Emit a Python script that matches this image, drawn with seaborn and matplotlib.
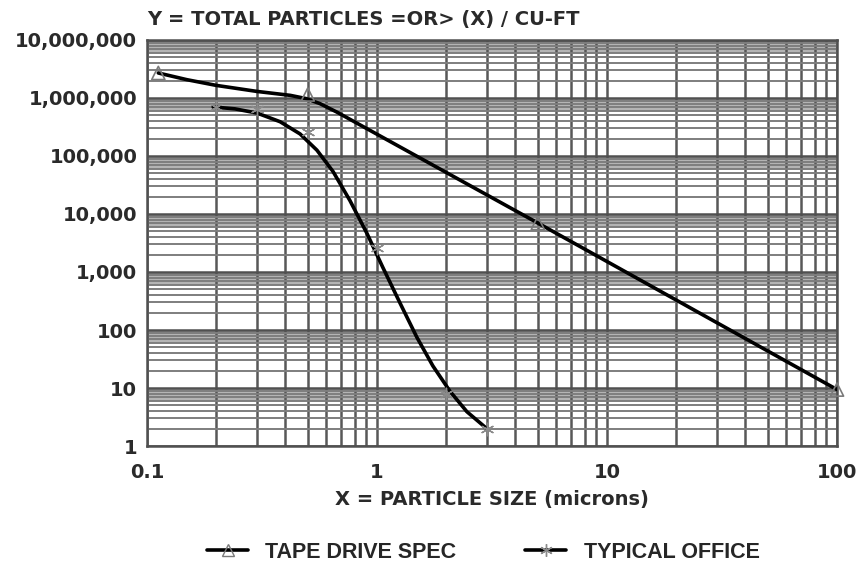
#
# Particle size distribution chart (log-log), redrawn with seaborn
#

import numpy as np
import pandas as pd
from matplotlib import pyplot as plt
from matplotlib.lines import Line2D
from matplotlib.ticker import FixedLocator, NullFormatter
import seaborn as sns

#
# Data
#

# tape drive spec - curve and its marker points
tape_x = [0.112, 0.149, 0.2, 0.3, 0.42, 0.49, 0.565, 0.67, 5, 100]
tape_y = [2.7e6, 2.07e6, 1.65e6, 1.3e6, 1.11e6, 9.8e5, 8.0e5, 5.7e5, 7000, 9.4]
tape_mark_x = [0.112, 0.5, 5, 100]
tape_mark_y = [2.7e6, 1.15e6, 7000, 9.4]

# typical office - curve and its marker points
office_x = [0.194, 0.241, 0.301, 0.379, 0.463, 0.548, 0.644, 0.763, 0.905, 1.06,
            1.26, 1.49, 1.75, 2.08, 2.46, 3.0]
office_y = [7.0e5, 6.5e5, 5.5e5, 3.9e5, 2.4e5, 1.26e5, 5.4e4, 1.7e4, 4.6e3, 1.2e3,
            290, 75, 24, 8.7, 3.9, 2.0]
office_mark_x = [0.2, 0.3, 0.5, 1, 2, 3]
office_mark_y = [7.0e5, 6.4e5, 2.6e5, 2600, 8, 2]

# axis ticks
x_ticks = [0.1, 1, 10, 100]
x_labels = ["0.1", "1", "10", "100"]
y_ticks = [1, 10, 100, 1000, 10000, 100000, 1000000, 10000000]
y_labels = ["1", "10", "100", "1,000", "10,000", "100,000", "1,000,000", "10,000,000"]

series_names = ["TAPE DRIVE SPEC", "TYPICAL OFFICE"]

#
# Plotting
#

sns.set_style("white")
plt.rcParams['font.family'] = ['DejaVu Sans']

fig = plt.figure(figsize=(8.57, 5.67), dpi=100)
ax = fig.add_axes([147/857, 1 - 446/567, 690/857, 406/567])
ax.set_xscale("log")
ax.set_yscale("log")
ax.set_xlim(0.1, 100)
ax.set_ylim(1, 1e7)

# log paper: grey band just under each decade line
for k in range(0, 7):
	ax.axhspan(0.6 * 10**(k+1), 10**(k+1), color="#b4b4b4", lw=0, zorder=0)

ax.xaxis.set_minor_locator(FixedLocator([m * 10.0**e for e in range(-1, 2) for m in range(2, 10)]))
ax.yaxis.set_minor_locator(FixedLocator([m * 10.0**e for e in range(0, 7) for m in range(2, 10)]))
ax.xaxis.set_minor_formatter(NullFormatter())
ax.yaxis.set_minor_formatter(NullFormatter())
ax.grid(axis="x", which="both", color="#585858", lw=1.8, zorder=1)
ax.grid(axis="y", which="minor", color="#7e7e7e", lw=1.4, zorder=1)
ax.grid(axis="y", which="major", color="#505050", lw=1.8, zorder=1)
ax.set_axisbelow(True)

tape_df = pd.DataFrame({"x": tape_x, "y": tape_y})
office_df = pd.DataFrame({"x": office_x, "y": office_y})

sns.lineplot(data=tape_df, x="x", y="y", ax=ax, color="black", lw=2.6,
			 sort=False, estimator=None, zorder=3)
sns.lineplot(data=office_df, x="x", y="y", ax=ax, color="black", lw=2.6,
			 sort=False, estimator=None, zorder=3)
sns.scatterplot(x=tape_mark_x, y=tape_mark_y, ax=ax, marker="^", s=90,
				facecolor="none", edgecolor="#7a7a7a", linewidth=1.2, zorder=4, clip_on=False)
sns.scatterplot(x=office_mark_x, y=office_mark_y, ax=ax, marker=(6, 2, 0), s=80,
				color="#8a8a8a", linewidth=1.0, zorder=4, clip_on=False)

ax.set_xticks(x_ticks)
ax.set_xticklabels(x_labels)
ax.set_yticks(y_ticks)
ax.set_yticklabels(y_labels)
ax.tick_params(axis="both", which="both", length=0, labelsize=14, colors="#2a2a2a")
ax.tick_params(axis="x", pad=12)
ax.tick_params(axis="y", pad=7)
for lab in ax.get_xticklabels() + ax.get_yticklabels():
	lab.set_fontweight("bold")

for side in ax.spines:
	ax.spines[side].set_visible(True)
	ax.spines[side].set_color("#505050")
	ax.spines[side].set_linewidth(1.8)

ax.set_xlabel("X = PARTICLE SIZE (microns)", fontsize=14, fontweight="bold",
			  color="#2a2a2a", labelpad=6)
ax.set_ylabel("")
ax.text(0.0, 1 + 15/406, "Y = TOTAL PARTICLES =OR> (X) / CU-FT", transform=ax.transAxes,
		fontsize=14, fontweight="bold", color="#2a2a2a", ha="left", va="baseline")

# legend below the chart
handles = [
	Line2D([], [], color="black", lw=2.6, marker="^", markersize=8,
		   markerfacecolor="none", markeredgecolor="#7a7a7a"),
	Line2D([], [], color="black", lw=2.6, marker=(6, 2, 0), markersize=9,
		   markeredgecolor="#8a8a8a"),
]
fig.legend(handles, series_names, loc="center", bbox_to_anchor=(0.564, 0.026),
		   ncol=2, frameon=False, handlelength=1.9, handletextpad=0.8, columnspacing=3.2,
		   prop={"family": ["Liberation Sans", "DejaVu Sans"], "weight": "bold", "size": 15.5})

plt.savefig("out.png", dpi=100)
